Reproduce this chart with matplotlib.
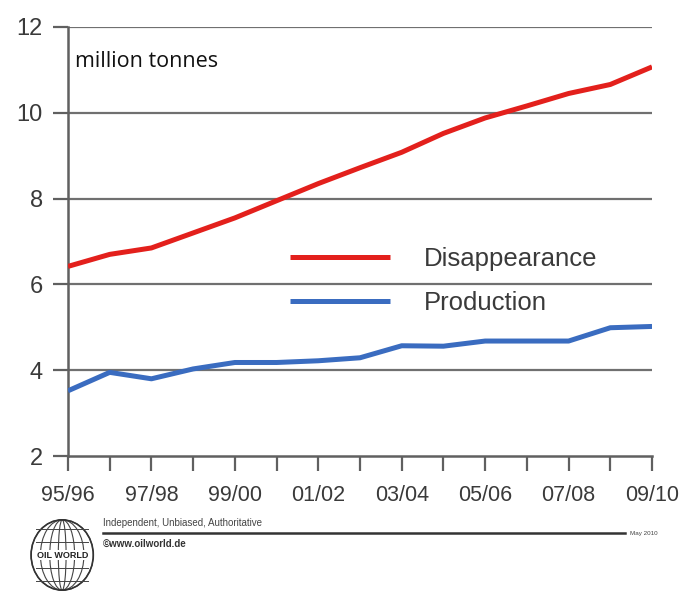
import matplotlib.pyplot as plt
from matplotlib.patches import Ellipse

seasons = ['95/96', '96/97', '97/98', '98/99', '99/00', '00/01', '01/02', '02/03',
           '03/04', '04/05', '05/06', '06/07', '07/08', '08/09', '09/10']
disappearance = [6.42, 6.70, 6.85, 7.20, 7.55, 7.95, 8.35, 8.72, 9.08, 9.52, 9.88, 10.16, 10.45, 10.66, 11.07]
production = [3.52, 3.95, 3.80, 4.03, 4.18, 4.18, 4.22, 4.29, 4.57, 4.56, 4.68, 4.68, 4.68, 4.99, 5.02]

plt.rcParams['font.family'] = ['Liberation Sans', 'DejaVu Sans']

fig = plt.figure(figsize=(6.91, 5.92), dpi=100)
ax = fig.add_axes([0.0984, 0.2297, 0.8452, 0.7247])

x = list(range(len(seasons)))
for yv in [4, 6, 8, 10, 12]:
    ax.axhline(yv, color='#707070', lw=1.6, zorder=1)
ax.plot(x, disappearance, color='#e3201c', lw=3.6, solid_capstyle='butt', zorder=3, label='Disappearance')
ax.plot(x, production, color='#3a6cc0', lw=3.6, solid_capstyle='butt', zorder=3, label='Production')

ax.set_xlim(0, 14)
ax.set_ylim(2, 12)
ax.set_yticks([2, 4, 6, 8, 10, 12])
ax.set_xticks(x)
ax.set_xticklabels([s if i % 2 == 0 else '' for i, s in enumerate(seasons)])
for s in ['top', 'right']:
    ax.spines[s].set_visible(False)
for s in ['left', 'bottom']:
    ax.spines[s].set_color('#606060')
    ax.spines[s].set_linewidth(1.8)
ax.tick_params(axis='both', direction='out', length=11, width=1.6, color='#606060',
               labelcolor='#3a3a3a')
ax.tick_params(axis='y', pad=7, labelsize=17)
ax.tick_params(axis='x', pad=10, labelsize=15.5)

ax.text(0.012, 0.92, 'million tonnes', transform=ax.transAxes, fontsize=15.5,
        family=['Open Sans', 'DejaVu Sans'], color='#111111', va='center')

leg = ax.legend(loc='upper left', bbox_to_anchor=(290 / 691, 1 - 247 / 592),
                bbox_transform=fig.transFigure, frameon=False, fontsize=18.5,
                handlelength=3.9, handletextpad=1.3, labelspacing=0.78,
                borderpad=0, borderaxespad=0, labelcolor='#3a3a3a')

# footer
logo = fig.add_axes([0.04, 0.0, 0.1, 0.125])
logo.set_xlim(-1, 1)
logo.set_ylim(-1, 1)
logo.axis('off')
for w in [2.0, 1.4, 0.8, 0.25]:
    logo.add_patch(Ellipse((0, 0), w * 0.9, 1.9, fill=False, lw=0.8, color='#444444'))
for yy in [-0.7, -0.35, 0.35, 0.7]:
    logo.plot([-0.75, 0.75], [yy, yy], color='#444444', lw=0.7)
logo.add_patch(Ellipse((0, 0), 1.8, 1.9, fill=False, lw=1.2, color='#333333'))
logo.text(0, 0, 'OIL WORLD', ha='center', va='center', fontsize=6.5, weight='bold',
          color='#222222', bbox=dict(fc='white', ec='none', pad=0.5))

fig.text(0.149, 0.117, 'Independent, Unbiased, Authoritative', fontsize=7, color='#444444', va='center')
fig.add_artist(plt.Line2D([0.149, 0.905], [0.099, 0.099], color='#333333', lw=1.8))
fig.text(0.912, 0.099, 'May 2010', fontsize=4.5, color='#444444', va='center')
fig.text(0.149, 0.081, '\u00a9www.oilworld.de', fontsize=7, weight='bold', color='#333333', va='center')

fig.savefig('out.png', dpi=100)
